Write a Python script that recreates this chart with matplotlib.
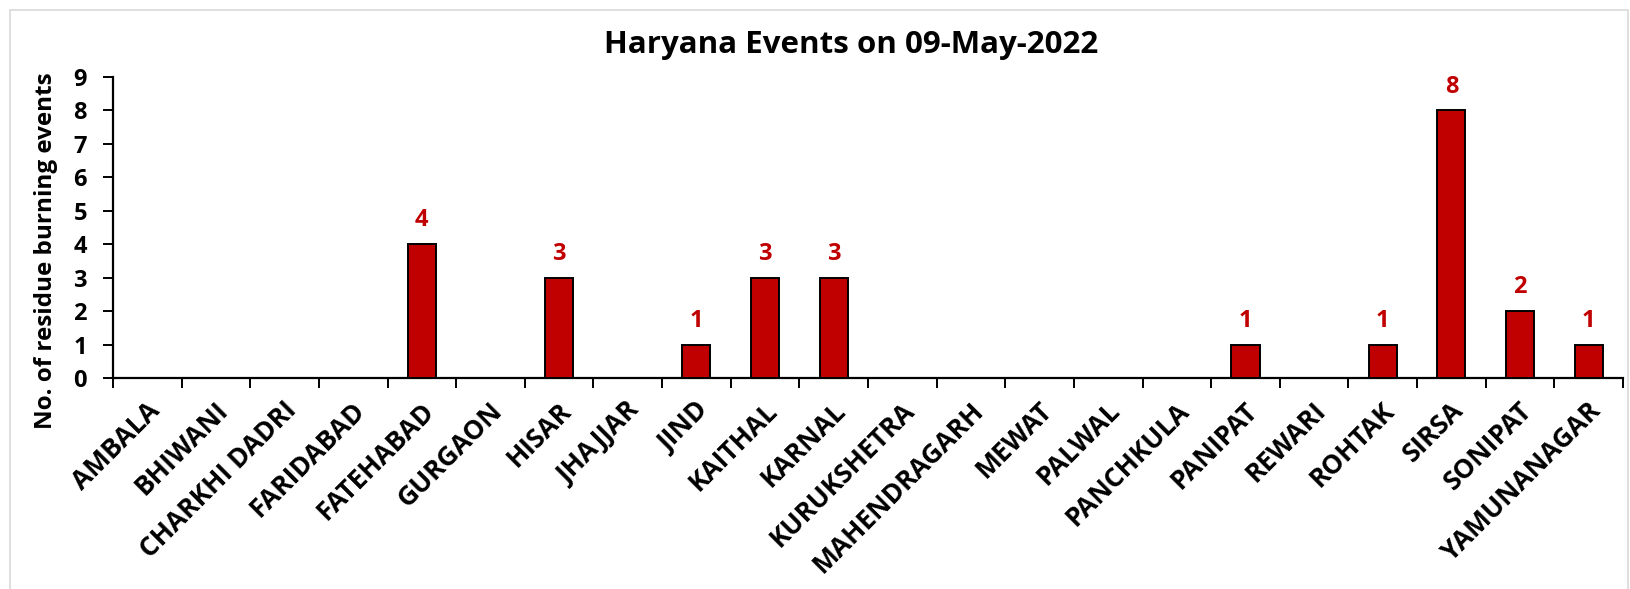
import matplotlib
matplotlib.use("Agg")
import matplotlib.pyplot as plt
from matplotlib.patches import Rectangle
from matplotlib.transforms import ScaledTranslation

districts = ["AMBALA", "BHIWANI", "CHARKHI DADRI", "FARIDABAD", "FATEHABAD", "GURGAON",
             "HISAR", "JHAJJAR", "JIND", "KAITHAL", "KARNAL", "KURUKSHETRA",
             "MAHENDRAGARH", "MEWAT", "PALWAL", "PANCHKULA", "PANIPAT", "REWARI",
             "ROHTAK", "SIRSA", "SONIPAT", "YAMUNANAGAR"]
events = [0, 0, 0, 0, 4, 0, 3, 0, 1, 3, 3, 0, 0, 0, 0, 0, 1, 0, 1, 8, 2, 1]
yticks = list(range(0, 10))

plt.rcParams['font.family'] = ['Open Sans', 'DejaVu Sans']
plt.rcParams['font.weight'] = 'bold'

W, H = 1630, 589
fig = plt.figure(figsize=(W / 100, H / 100), dpi=100)
ax = fig.add_axes([113 / W, 1 - 378 / H, (1623 - 113) / W, (378 - 77) / H])

x = list(range(len(districts)))
ax.bar(x, events, width=0.41, color="#C00000", edgecolor="black", linewidth=1.4, zorder=3)
for xi, v in zip(x, events):
    if v > 0:
        ax.annotate(str(v), (xi, v), xytext=(0, 8.5), textcoords="offset points",
                    ha="center", va="bottom", color="#C00000", fontsize=17, fontweight="bold")

ax.set_xlim(-0.5, len(districts) - 0.5)
ax.set_ylim(0, 9)
ax.set_yticks(yticks)
ax.set_yticklabels([str(t) for t in yticks], fontsize=17, fontweight="bold")
ax.set_xticks([i - 0.5 for i in range(len(districts) + 1)])
ax.set_xticklabels([])
ax.set_xticks(x, minor=True)
ax.set_xticklabels(districts, minor=True, rotation=45, ha="right", va="center",
                   rotation_mode="anchor", fontsize=19, fontweight="bold")
ax.tick_params(axis="x", which="minor", length=0, pad=20.5)
ax.tick_params(axis="x", which="major", length=7.2, width=1.4, direction="out")
ax.tick_params(axis="y", length=7.2, width=1.4, direction="out", pad=11.5)
shift = ScaledTranslation(0.08, 0, fig.dpi_scale_trans)
for lab in ax.get_xticklabels(minor=True):
    lab.set_transform(lab.get_transform() + shift)
for s in ["top", "right"]:
    ax.spines[s].set_visible(False)
for s in ["left", "bottom"]:
    ax.spines[s].set_linewidth(1.6)

ax.set_ylabel("No. of residue burning events", fontsize=17.5, fontweight="bold")
ax.yaxis.set_label_coords(58 / W, 1 - 251 / H, transform=fig.transFigure)
fig.text(851 / W, 1 - 53 / H, "Haryana Events on 09-May-2022", ha="center", va="baseline",
         fontsize=22.5, fontweight="bold")

fig.patches.append(Rectangle((10 / W, -0.01), 1 - 12 / W, 1 - 10 / H + 0.01,
                             transform=fig.transFigure, fill=False,
                             edgecolor="#D9D9D9", linewidth=1.2))

fig.savefig("out.png", dpi=100)
